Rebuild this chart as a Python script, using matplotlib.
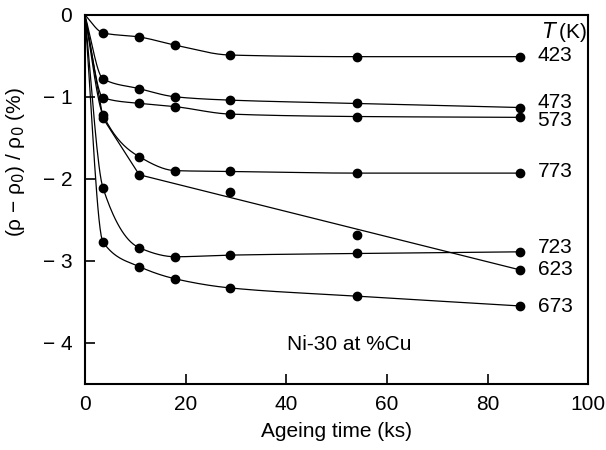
import numpy as np
import matplotlib
matplotlib.use("Agg")
import matplotlib.pyplot as plt

plt.rcParams['font.family'] = ['Liberation Sans', 'DejaVu Sans']

# ---- data ----
times = [0, 3.6, 10.8, 18, 28.8, 54, 86.4]
series = {
    "423": [0, -0.22, -0.27, -0.37, -0.49, -0.51, -0.51],
    "473": [0, -0.78, -0.90, -1.00, -1.04, -1.08, -1.13],
    "573": [0, -1.01, -1.08, -1.12, -1.21, -1.24, -1.25],
    "773": [0, -1.22, -1.73, -1.90, -1.91, -1.93, -1.93],
    "723": [0, -2.11, -2.84, -2.95, -2.93, -2.91, -2.89],
    "623": [0, -1.26, -1.95, None, -2.16, -2.68, -3.11],
    "673": [0, -2.77, -3.07, -3.22, -3.33, -3.43, -3.55],
}
# 623 line drawn as straight segments (0 -> 3.6 -> 10.8 -> 86.4)
line_623_t = [0, 3.6, 10.8, 86.4]
line_623_v = [0, -1.26, -1.95, -3.11]
label_y = {"423": -0.50, "473": -1.07, "573": -1.29, "773": -1.91,
           "723": -2.84, "623": -3.11, "673": -3.56}
xticks = [0, 20, 40, 60, 80, 100]
xticklabels = ["0", "20", "40", "60", "80", "100"]
yticks = [-4, -3, -2, -1, 0]
yticklabels = ["\u2212 4", "\u2212 3", "\u2212 2", "\u2212 1", "0"]

FS = 15


def pchip(x, y, xs):
    x = np.asarray(x, float); y = np.asarray(y, float)
    h = np.diff(x); d = np.diff(y) / h
    n = len(x); m = np.zeros(n)
    for k in range(1, n - 1):
        if d[k - 1] * d[k] > 0:
            w1 = 2 * h[k] + h[k - 1]; w2 = h[k] + 2 * h[k - 1]
            m[k] = (w1 + w2) / (w1 / d[k - 1] + w2 / d[k])
    m[0] = d[0]; m[-1] = d[-1]
    out = np.empty_like(xs)
    for i, xv in enumerate(xs):
        k = min(np.searchsorted(x, xv, side='right') - 1, n - 2)
        k = max(k, 0)
        t = (xv - x[k]) / h[k]
        h00 = 2 * t**3 - 3 * t**2 + 1; h10 = t**3 - 2 * t**2 + t
        h01 = -2 * t**3 + 3 * t**2; h11 = t**3 - t**2
        out[i] = h00 * y[k] + h10 * h[k] * m[k] + h01 * y[k + 1] + h11 * h[k] * m[k + 1]
    return out


fig = plt.figure(figsize=(6.06, 4.5), dpi=100)
ax = fig.add_axes([0.140, 0.147, 0.831, 0.820])

for name, vals in series.items():
    t = [ti for ti, v in zip(times, vals) if v is not None]
    v = [vv for vv in vals if vv is not None]
    if name == "623":
        ax.plot(line_623_t, line_623_v, color='black', lw=0.9)
    else:
        xs = np.linspace(0, t[-1], 400)
        ax.plot(xs, pchip(t, v, xs), color='black', lw=0.9)
    ax.plot(t[1:], v[1:], 'o', color='black', ms=6)
    ax.text(89.9, label_y[name], name, fontsize=FS, va='center', ha='left')

ax.text(90.8, -0.21, r"$\mathit{T}$" + "\u2009(K)", fontsize=FS, va='center', ha='left')
ax.text(52.5, -4.02, "Ni-30 at %Cu", fontsize=FS, va='center', ha='center')

ax.set_xlim(0, 100)
ax.set_ylim(-4.5, 0)
ax.set_xticks(xticks)
ax.set_xticklabels(xticklabels)
ax.set_yticks(yticks)
ax.set_yticklabels(yticklabels)
ax.tick_params(axis='both', direction='in', length=7, width=1.2, labelsize=FS)
ax.tick_params(axis='y', pad=9)
ax.tick_params(axis='x', pad=8)
for s in ax.spines.values():
    s.set_linewidth(1.5)

ax.set_xlabel("Ageing time (ks)", fontsize=FS, labelpad=6)
ax.set_ylabel("(\u03c1 \u2212 \u03c1$_0$) / \u03c1$_0$ (%)", fontsize=FS)
ax.yaxis.set_label_coords(-0.115, 0.60)

fig.savefig("out.png", dpi=100)
